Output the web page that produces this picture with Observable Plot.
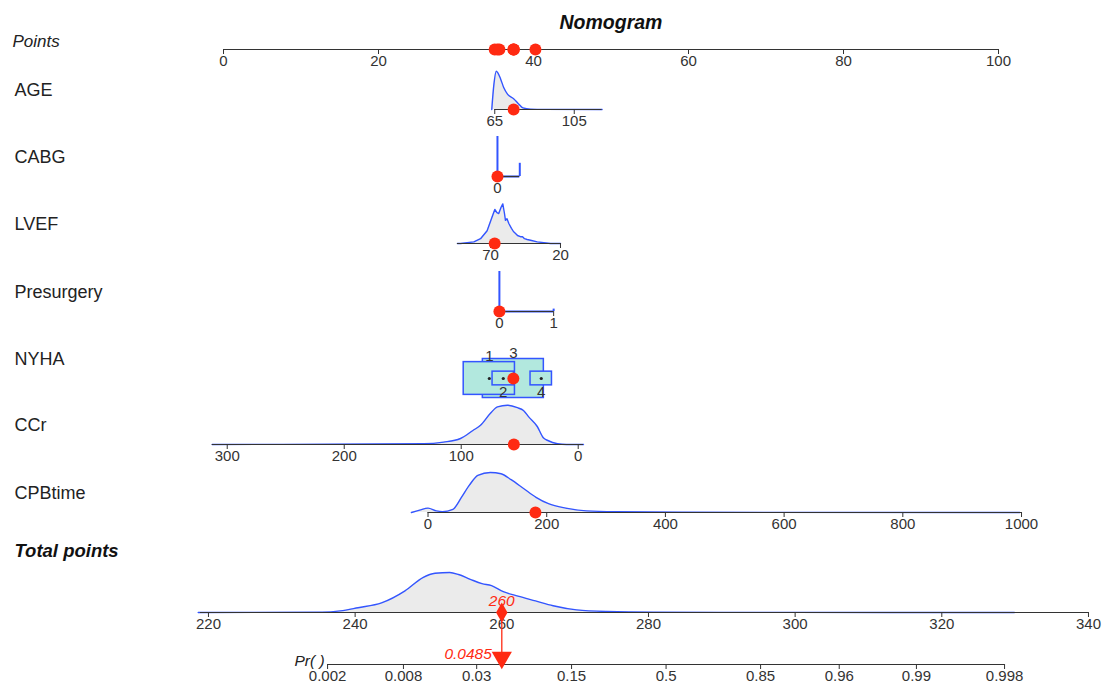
<!DOCTYPE html>
<html>
<head>
<meta charset="utf-8">
<script src="https://cdn.jsdelivr.net/npm/d3@7"></script>
<script src="https://cdn.jsdelivr.net/npm/@observablehq/plot@0.6"></script>
<style>
html,body{margin:0;padding:0;background:#fff;}
#chart svg{display:block;}
</style>
</head>
<body>
<div id="chart"></div>
<script>
// ================= DATA =================
const chartTitle = "Nomogram";
const variables = ["AGE", "CABG", "LVEF", "Presurgery", "NYHA", "CCr", "CPBtime"];
const pointsTicks = [0, 20, 40, 60, 80, 100];

// AGE (continuous): value -> points
const ageScoreValues = [65, 105];
const ageScorePoints = [35.0, 45.26];
const ageTicks = [65, 105];
const ageExtent = [65, 119];
const ageDensValues  = [63.5, 64.6, 65.8, 66.5, 67.9, 69.5, 71.5, 74.5, 77, 79.2, 83, 90, 119];
const ageDensHeights = [0, 0.64, 0.96, 0.92, 0.77, 0.55, 0.38, 0.27, 0.14, 0.04, 0.008, 0.002, 0];
const agePatient = 74.5;

// CABG (binary)
const cabgLevels = [0, 1];
const cabgPoints = [35.35, 38.23];
const cabgLabels = ["0", ""];
const cabgFreq = [1.0, 0.33];
const cabgPatient = 0;

// LVEF (continuous, reversed)
const lvefScoreValues = [70, 20];
const lvefScorePoints = [34.45, 43.48];
const lvefTicks = [70, 20];
const lvefExtent = [93.6, 20];
const lvefDensValues  = [93.6, 91.4, 81.9, 77.1, 72.4, 68.8, 66.9, 65.4, 64.1, 62.5, 61.2, 60, 59.3, 58.2, 56.9, 55, 53.6, 52.1, 50.7, 48.6, 47.1, 45.7, 43.8, 41.4, 36.6, 27.1, 20];
const lvefDensHeights = [0, 0, 0.04, 0.12, 0.32, 0.67, 0.85, 0.77, 0.75, 0.9, 0.99, 0.75, 0.58, 0.62, 0.5, 0.38, 0.3, 0.25, 0.2, 0.17, 0.17, 0.12, 0.1, 0.08, 0.04, 0, 0];
const lvefPatient = 67;

// Presurgery (binary)
const presLevels = [0, 1];
const presPoints = [35.6, 42.6];
const presLabels = ["0", "1"];
const presFreq = [1.0, 0.06];
const presPatient = 0;

// NYHA (categorical)
const nyhaLevels = ["1", "2", "3", "4"];
const nyhaPoints = [34.3, 36.1, 37.4, 41.0];
const nyhaFreq = [0.36, 0.063, 0.51, 0.063];
const nyhaPatient = "3";

// CCr (continuous, reversed)
const ccrScoreValues = [0, 300];
const ccrScorePoints = [45.77, 0.48];
const ccrTicks = [300, 200, 100, 0];
const ccrExtent = [312.8, -4.5];
const ccrDensValues  = [312.8, 132, 115, 100.6, 90, 83.5, 75, 69, 60.4, 52, 46.8, 42.3, 35, 29.6, 26, 17.7, 10, -4.5];
const ccrDensHeights = [0, 0.02, 0.06, 0.15, 0.35, 0.48, 0.78, 0.94, 0.98, 0.92, 0.85, 0.69, 0.45, 0.16, 0.1, 0.02, 0, 0];
const ccrPatient = 55;

// CPBtime (continuous)
const cpbScoreValues = [0, 1000];
const cpbScorePoints = [26.39, 102.97];
const cpbTicks = [0, 200, 400, 600, 800, 1000];
const cpbExtent = [0, 1000];
const cpbDensValues  = [-28, -14, 0, 14, 24, 42, 56, 70, 84, 105, 123, 140, 161, 182, 203, 232, 267, 316, 428, 997];
const cpbDensHeights = [0, 0.06, 0.11, 0.04, 0.02, 0.08, 0.37, 0.69, 0.93, 1.0, 0.97, 0.82, 0.6, 0.38, 0.22, 0.11, 0.04, 0.017, 0.005, 0];
const cpbPatient = 181;

// Total points
const totalTicks = [220, 240, 260, 280, 300, 320, 340];
const totalExtent = [218.9, 340];
const totalDensValues  = [218.6, 235.5, 238, 240.4, 243.6, 246.8, 249.3, 250.9, 252.9, 254.1, 255.7, 257.3, 258.6, 260.2, 262.2, 264.6, 267, 270.2, 274.3, 280.7, 300, 329.9];
const totalDensHeights = [0, 0.007, 0.04, 0.12, 0.24, 0.54, 0.88, 0.98, 1.0, 0.95, 0.83, 0.72, 0.67, 0.52, 0.41, 0.29, 0.17, 0.066, 0.024, 0.007, 0.002, 0];
const patientTotal = 260;

// Probability axis (logit linear in total points)
const prTicks = [0.002, 0.008, 0.03, 0.15, 0.5, 0.85, 0.96, 0.99, 0.998];
const prTickLabels = ["0.002", "0.008", "0.03", "0.15", "0.5", "0.85", "0.96", "0.99", "0.998"];
const prCenterTotal = 282.4;
const prLogitPerPoint = 0.1346;
const patientPrLabel = "0.0485";

// ================= LAYOUT / STYLE =================
const layout = {
  width: 1110, height: 689,
  pointsRange: [223, 998],
  rowY: {Points: 49, AGE: 109, CABG: 176, LVEF: 243, Presurgery: 311, NYHA: 378, CCr: 444, CPBtime: 512, Total: 612, Pr: 664},
  labelDy: -19,
  densH: 40,
  tickLen: 5,
  tickLabelDy: 6,
  boxW: 85.4, boxH: 54.6,
  totalAlign: {total: [220, 340], points: [-1.94, 111.61]},
  titleY: 22, totalLabelY: 551, pointsLabelY: 41
};
const BLUE = "#3355ff", RED = "#ff2a12", GRAYFILL = "#ebebeb", AX = "#333", BOXFILL = "#b2e8de";
const PXPT = (layout.pointsRange[1] - layout.pointsRange[0]) / 100;
const Y = layout.rowY;

// ================= BUILD =================
const ageS = d3.scaleLinear(ageScoreValues, ageScorePoints);
const lvefS = d3.scaleLinear(lvefScoreValues, lvefScorePoints);
const ccrS = d3.scaleLinear(ccrScoreValues, ccrScorePoints);
const cpbS = d3.scaleLinear(cpbScoreValues, cpbScorePoints);
const totS = d3.scaleLinear(layout.totalAlign.total, layout.totalAlign.points);
const logit = p => Math.log(p / (1 - p));
const prS = p => totS(prCenterTotal + logit(p) / prLogitPerPoint);

function densData(row, vals, hs, s) {
  const a = vals.map((v, i) => ({x: s(v), y1: Y[row], y2: Y[row] - hs[i] * layout.densH}));
  a.sort((p, q) => p.x - q.x);
  return a;
}
const densities = [
  {d: densData("AGE", ageDensValues, ageDensHeights, ageS), curve: "monotone-x"},
  {d: densData("LVEF", lvefDensValues, lvefDensHeights, lvefS), curve: "linear"},
  {d: densData("CCr", ccrDensValues, ccrDensHeights, ccrS), curve: "monotone-x"},
  {d: densData("CPBtime", cpbDensValues, cpbDensHeights, cpbS), curve: "monotone-x"},
  {d: densData("Total", totalDensValues, totalDensHeights, totS), curve: "monotone-x"}
];

// spikes for binary variables
const spikes = [
  ...cabgLevels.map((v, i) => ({x: cabgPoints[i], y1: Y.CABG, y2: Y.CABG - cabgFreq[i] * layout.densH})),
  ...presLevels.map((v, i) => ({x: presPoints[i], y1: Y.Presurgery, y2: Y.Presurgery - presFreq[i] * layout.densH}))
];

// axis lines
const axisLines = [
  {x1: 0, x2: 100, y: Y.Points},
  {x1: ageS(ageExtent[0]), x2: ageS(ageExtent[1]), y: Y.AGE},
  {x1: cabgPoints[0], x2: cabgPoints[1], y: Y.CABG},
  {x1: lvefS(lvefExtent[0]), x2: lvefS(lvefExtent[1]), y: Y.LVEF},
  {x1: presPoints[0], x2: presPoints[1], y: Y.Presurgery},
  {x1: ccrS(ccrExtent[0]), x2: ccrS(ccrExtent[1]), y: Y.CCr},
  {x1: cpbS(cpbExtent[0]), x2: cpbS(cpbExtent[1]), y: Y.CPBtime},
  {x1: totS(totalExtent[0]), x2: totS(totalExtent[1]), y: Y.Total},
  {x1: prS(prTicks[0]), x2: prS(prTicks[prTicks.length - 1]), y: Y.Pr}
];
const blueBase = [
  {x1: cabgPoints[0], x2: cabgPoints[1], y: Y.CABG},
  {x1: presPoints[0], x2: presPoints[1], y: Y.Presurgery}
];

// ticks
const ticks = [
  ...pointsTicks.map(v => ({x: v, y: Y.Points, label: String(v)})),
  ...ageTicks.map(v => ({x: ageS(v), y: Y.AGE, label: String(v)})),
  ...cabgLevels.map((v, i) => ({x: cabgPoints[i], y: Y.CABG, label: cabgLabels[i], show: cabgLabels[i] !== ""})),
  ...lvefTicks.map(v => ({x: lvefS(v), y: Y.LVEF, label: String(v)})),
  ...presLevels.map((v, i) => ({x: presPoints[i], y: Y.Presurgery, label: presLabels[i]})),
  ...ccrTicks.map(v => ({x: ccrS(v), y: Y.CCr, label: String(v)})),
  ...cpbTicks.map(v => ({x: cpbS(v), y: Y.CPBtime, label: String(v)})),
  ...totalTicks.map(v => ({x: totS(v), y: Y.Total, label: String(v)})),
  ...prTicks.map((p, i) => ({x: prS(p), y: Y.Pr, label: prTickLabels[i]}))
].filter(t => t.show !== false);

// NYHA boxes
const boxes = nyhaLevels.map((lv, i) => {
  const hw = layout.boxW * Math.sqrt(nyhaFreq[i]) / 2 / PXPT;
  const hh = layout.boxH * Math.sqrt(nyhaFreq[i]) / 2;
  return {lv, i, x: nyhaPoints[i], x1: nyhaPoints[i] - hw, x2: nyhaPoints[i] + hw,
          y1: Y.NYHA - hh, y2: Y.NYHA + hh, f: nyhaFreq[i]};
}).sort((a, b) => b.f - a.f);
const boxLabelsAbove = boxes.filter(b => b.i % 2 === 0).map(b => ({x: b.x, text: b.lv, y: b.y1 - 1}));
const boxLabelsBelow = boxes.filter(b => b.i % 2 === 1).map(b => ({x: b.x, text: b.lv, y: b.y2 + 1}));

// patient dots
const patientPts = {
  AGE: ageS(agePatient),
  CABG: cabgPoints[cabgLevels.indexOf(cabgPatient)],
  LVEF: lvefS(lvefPatient),
  Presurgery: presPoints[presLevels.indexOf(presPatient)],
  NYHA: nyhaPoints[nyhaLevels.indexOf(nyhaPatient)],
  CCr: ccrS(ccrPatient),
  CPBtime: cpbS(cpbPatient)
};
const rowDots = variables.map(v => ({x: patientPts[v], y: Y[v]}));
const pointsDots = variables.map(v => ({x: patientPts[v], y: Y.Points}));

const rowLabels = variables.map(v => ({y: Y[v] + layout.labelDy, text: v}));
const xTot = totS(patientTotal);

const marks = [];
for (const dn of densities) {
  marks.push(Plot.areaY(dn.d, {x: "x", y1: "y1", y2: "y2", fill: GRAYFILL, curve: dn.curve}));
  marks.push(Plot.line(dn.d, {x: "x", y: "y2", stroke: BLUE, strokeWidth: 1.4, curve: dn.curve}));
}
marks.push(
  Plot.ruleY(blueBase, {y: "y", x1: "x1", x2: "x2", stroke: BLUE, strokeWidth: 2}),
  Plot.ruleX(spikes, {x: "x", y1: "y1", y2: "y2", stroke: BLUE, strokeWidth: 2}),
  Plot.ruleY(axisLines, {y: "y", x1: "x1", x2: "x2", stroke: AX, strokeWidth: 1.2}),
  Plot.ruleX(ticks, {x: "x", y1: "y", y2: d => d.y + layout.tickLen, stroke: AX, strokeWidth: 1}),
  Plot.text(ticks, {x: "x", y: "y", text: "label", lineAnchor: "top", dy: layout.tickLabelDy, fontSize: 15, fill: AX}),
  // NYHA boxes
  Plot.rect(boxes, {x1: "x1", x2: "x2", y1: "y1", y2: "y2", fill: BOXFILL, stroke: BLUE, strokeWidth: 1.5}),
  Plot.dot(boxes, {x: "x", y: () => Y.NYHA, r: 1.6, fill: "#222", stroke: null}),
  Plot.text(boxLabelsAbove, {x: "x", y: "y", text: "text", lineAnchor: "bottom", fontSize: 15, fill: AX}),
  Plot.text(boxLabelsBelow, {x: "x", y: "y", text: "text", lineAnchor: "top", fontSize: 15, fill: AX}),
  // patient dots
  Plot.dot(rowDots, {x: "x", y: "y", r: 6, fill: RED, stroke: null}),
  Plot.dot(pointsDots, {x: "x", y: "y", r: 6, fill: RED, stroke: null}),
  // total and probability markers
  Plot.ruleX([patientTotal], {x: () => xTot, y1: Y.Total, y2: Y.Pr - 12, stroke: RED, strokeWidth: 1.3}),
  Plot.dot([patientTotal], {x: () => xTot, y: Y.Total, symbol: "diamond", r: 6, fill: RED, stroke: null}),
  Plot.text([patientTotal], {x: () => xTot, y: Y.Total, text: d => String(d), dy: -11, fill: RED, fontStyle: "italic", fontSize: 15.5}),
  Plot.dot([patientTotal], {x: () => xTot, y: Y.Pr - 7, symbol: "triangle", rotate: 180, r: 7.5, fill: RED, stroke: null}),
  Plot.text([patientPrLabel], {x: () => xTot, y: Y.Pr - 10, text: d => d, textAnchor: "end", dx: -10, fill: RED, fontStyle: "italic", fontSize: 15.5}),
  // titles and labels
  Plot.text([chartTitle], {x: 50, y: layout.titleY, text: d => d, fontWeight: "bold", fontStyle: "italic", fontSize: 19.5, fill: "#111"}),
  Plot.text(["Points"], {frameAnchor: "left", dx: 12, y: layout.pointsLabelY, text: d => d, textAnchor: "start", fontStyle: "italic", fontSize: 17, fill: "#222"}),
  Plot.text(rowLabels, {frameAnchor: "left", dx: 14, y: "y", text: "text", textAnchor: "start", fontSize: 18, fill: "#222"}),
  Plot.text(["Total points"], {frameAnchor: "left", dx: 14, y: layout.totalLabelY, text: d => d, textAnchor: "start", fontWeight: "bold", fontStyle: "italic", fontSize: 18.5, fill: "#111"}),
  Plot.text(["Pr( )"], {x: () => prS(prTicks[0]), y: Y.Pr, dy: -3, text: d => d, textAnchor: "end", dx: -3, fontStyle: "italic", fontSize: 15.5, fill: "#222"})
);

const chart = Plot.plot({
  width: layout.width,
  height: layout.height,
  marginLeft: 0, marginRight: 0, marginTop: 0, marginBottom: 0,
  x: {domain: [0, 100], range: layout.pointsRange, axis: null},
  y: {domain: [0, layout.height], range: [0, layout.height], axis: null},
  style: {fontFamily: "'Liberation Sans', Arial, Helvetica, sans-serif", background: "#fff", color: "#222"},
  marks
});
document.getElementById("chart").appendChild(chart);
</script>
</body>
</html>
